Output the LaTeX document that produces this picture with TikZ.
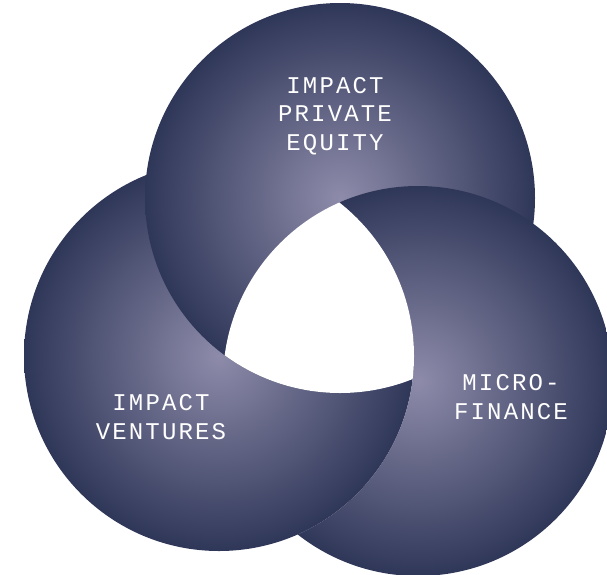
\documentclass[tikz,border=0pt]{standalone}
\usepackage{fontspec}
\newfontfamily\labelfont[LetterSpace=9]{Liberation Mono}
\definecolor{lite}{HTML}{8E8BAA}
\definecolor{navy}{HTML}{2F3759}
\begin{document}
\begin{tikzpicture}[x=1pt,y=-1pt,
  disc/.style={inner color=lite, outer color=navy},
  lbl/.style={text=white, align=center, inner sep=0pt,
    font={\labelfont\fontsize{24}{28.5}\selectfont}}]
\useasboundingbox (0,0) rectangle (607,574);
\coordinate (T) at (340,198);
\coordinate (L) at (219,356);
\coordinate (R) at (418,381);
\def\rad{195}
% L, then T over L
\shade[disc] (L) circle[radius=\rad];
\shade[disc] (T) circle[radius=\rad];
% R over T, but under L
\begin{scope}[even odd rule]
  \clip (R) circle[radius=\rad];
  \clip (-20,-20) rectangle (640,600) (L) circle[radius=\rad];
  \shade[disc] (R) circle[radius=\rad];
\end{scope}
% white triple intersection
\begin{scope}
  \clip (T) circle[radius=\rad];
  \clip (L) circle[radius=\rad];
  \fill[white] (R) circle[radius=\rad];
\end{scope}
\node[lbl] (pe) at (335,116) {IMPACT\\PRIVATE\\EQUITY};
\node[lbl] (iv) at (161,417) {IMPACT\\VENTURES};
\node[lbl] (mf) at (511,397) {MICRO-\\FINANCE};
\end{tikzpicture}
\end{document}
